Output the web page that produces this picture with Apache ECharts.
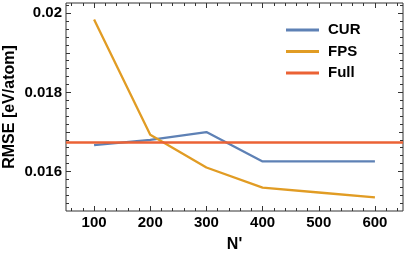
<!DOCTYPE html>
<html><head><meta charset="utf-8">
<script src="https://cdn.jsdelivr.net/npm/echarts@6/dist/echarts.min.js"></script>
<style>html,body{margin:0;padding:0;background:#fff}#c{width:407px;height:254px}</style>
</head><body><div id="c"></div>
<script>
const N = [100, 200, 300, 400, 500, 600];
const CUR = [0.016668, 0.01680, 0.016997, 0.016253, 0.016253, 0.016253];
const FPS = [0.01984, 0.016929, 0.01610, 0.015590, 0.015468, 0.015345];
const FULL = 0.016730;
const xMajor = [100, 200, 300, 400, 500, 600];
const xMinor = [60,80,120,140,160,180,220,240,260,280,320,340,360,380,420,440,460,480,520,540,560,580,620,640];
const yMajor = [0.016, 0.018, 0.020];
const yMedium = [0.017, 0.019];
const yMinor = [0.0152,0.0154,0.0156,0.0158,0.0162,0.0164,0.0166,0.0168,0.0172,0.0174,0.0176,0.0178,0.0182,0.0184,0.0186,0.0188,0.0192,0.0194,0.0196,0.0198,0.0202];
const X_MIN = 50, X_MAX = 650, Y_MIN = 0.015, Y_MAX = 0.02026;
const COLORS = ['#5E81B5', '#E19C24', '#EB6235'];
const FONT = 'Liberation Sans';
const frame = '#333';

function xAx(pos, ticks, len, opts) {
  return Object.assign({
    type: 'value', position: pos, min: X_MIN, max: X_MAX,
    axisLine: { show: false },
    splitLine: { show: false },
    axisTick: { show: true, inside: true, length: len, customValues: ticks, lineStyle: { color: frame, width: 1 } },
    axisLabel: { show: false }
  }, opts || {});
}
function yAx(pos, ticks, len, opts) {
  return Object.assign({
    type: 'value', position: pos, min: Y_MIN, max: Y_MAX,
    axisLine: { show: false },
    splitLine: { show: false },
    axisTick: { show: true, inside: true, length: len, customValues: ticks, lineStyle: { color: frame, width: 1 } },
    axisLabel: { show: false }
  }, opts || {});
}

const chart = echarts.init(document.getElementById('c'), null, { renderer: 'canvas' });
chart.setOption({
  animation: false,
  textStyle: { fontFamily: FONT },
  grid: { left: 66, right: 4, top: 3, bottom: 43, containLabel: false, outerBoundsMode: 'none',
    show: true, borderColor: frame, borderWidth: 1, backgroundColor: 'transparent' },
  legend: {
    orient: 'vertical', left: 281, top: 17,
    icon: 'rect', itemWidth: 33, itemHeight: 3, itemGap: 5.5,
    textStyle: { fontFamily: FONT, fontSize: 15, fontWeight: 'bold', color: '#000', lineHeight: 16, padding: [0, 0, 0, 4] },
    data: ['CUR', 'FPS', 'Full']
  },
  xAxis: [
    xAx('bottom', xMajor, 5, {
      name: "N'", nameLocation: 'middle', nameGap: 26, nameMoveOverlap: false,
      nameTextStyle: { fontFamily: FONT, fontSize: 16, fontWeight: 'bold', color: '#000' },
      axisLabel: { show: true, customValues: xMajor, margin: 4, fontFamily: FONT, fontSize: 15, fontWeight: 'bold', color: '#000' }
    }),
    xAx('bottom', xMinor, 3),
    xAx('top', xMajor, 5),
    xAx('top', xMinor, 3)
  ],
  yAxis: [
    yAx('left', yMajor, 5, {
      name: 'RMSE [eV/atom]', nameLocation: 'middle', nameGap: 48, nameMoveOverlap: false,
      nameTextStyle: { fontFamily: FONT, fontSize: 16, fontWeight: 'bold', color: '#000' },
      axisLabel: { show: true, customValues: yMajor, margin: 4, fontFamily: FONT, fontSize: 15, fontWeight: 'bold', color: '#000',
        formatter: v => String(+(+v).toFixed(4)) }
    }),
    yAx('left', yMedium, 4),
    yAx('left', yMinor, 3),
    yAx('right', yMajor, 5),
    yAx('right', yMedium, 4),
    yAx('right', yMinor, 3)
  ],
  series: [
    { name: 'CUR', type: 'line', xAxisIndex: 0, yAxisIndex: 0, data: N.map((n, i) => [n, CUR[i]]),
      showSymbol: false, symbol: 'none', lineStyle: { width: 2.3, color: COLORS[0] }, itemStyle: { color: COLORS[0] } },
    { name: 'FPS', type: 'line', xAxisIndex: 0, yAxisIndex: 0, data: N.map((n, i) => [n, FPS[i]]),
      showSymbol: false, symbol: 'none', lineStyle: { width: 2.3, color: COLORS[1] }, itemStyle: { color: COLORS[1] } },
    { name: 'Full', type: 'line', xAxisIndex: 0, yAxisIndex: 0, data: [[X_MIN, FULL], [X_MAX, FULL]],
      showSymbol: false, symbol: 'none', lineStyle: { width: 2.5, color: COLORS[2] }, itemStyle: { color: COLORS[2] } }
  ]
});
</script></body></html>
